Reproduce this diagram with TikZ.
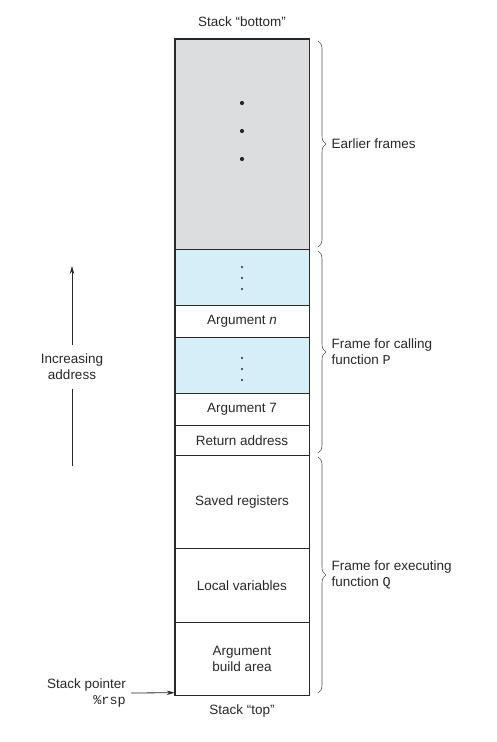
\documentclass[tikz,border=0pt]{standalone}
\usepackage{fontspec}
\setmainfont{Liberation Sans}
\setmonofont{Liberation Mono}
\usetikzlibrary{arrows.meta,decorations.pathreplacing}
\definecolor{frmgray}{RGB}{220,221,223}
\definecolor{argblue}{RGB}{213,238,248}
\definecolor{inkgray}{RGB}{40,40,40}
\newcommand{\lbl}{\fontsize{13.5}{16}\selectfont}

\begin{document}
\begin{tikzpicture}[>={Stealth[length=8pt,width=4.5pt]},x=1pt,y=-1pt,
  cell/.style={draw=inkgray,line width=0.7pt,minimum width=134pt,inner sep=0pt,anchor=north,font=\lbl,text=inkgray,align=center},
  brace/.style={draw=inkgray!80,line width=0.6pt,decorate,decoration={brace,amplitude=8pt}},
  side/.style={font=\lbl,text=inkgray,align=left,anchor=west}]
  \useasboundingbox (0,0) rectangle (497,742);
  \node[cell,fill=frmgray,minimum height=210pt] (early) at (242,39) {};
  \node[cell,fill=argblue,minimum height=56pt] (dotsa) at (242,249) {};
  \node[cell,minimum height=32pt] (argn) at (242,305) {Argument \textit{n}};
  \node[cell,fill=argblue,minimum height=56pt] (dotsb) at (242,337) {};
  \node[cell,minimum height=32pt] (arg7) at (242,393) {Argument 7};
  \node[cell,minimum height=30pt] (ret) at (242,425) {Return address};
  \node[cell,minimum height=93pt] (saved) at (242,455) {Saved registers};
  \node[cell,minimum height=74pt] (local) at (242,548) {Local variables};
  \node[cell,minimum height=73pt] (build) at (242,622) {Argument\\build area};
  \draw[inkgray,line width=1.4pt] (early.north west) rectangle (build.south east);
  \draw[inkgray,line width=1.4pt] (early.south west) -- (early.south east);
  \draw[inkgray,line width=1.4pt] (ret.south west) -- (ret.south east);
  \foreach \y in {103,131,159} \fill[inkgray] (242,\y) circle (2.1pt);
  \foreach \y in {267,278,289,358,369,380} \fill[inkgray] (242,\y) circle (1.2pt);

  \node[font=\lbl,text=inkgray] (bottom) at (242,22) {Stack “bottom”};
  \node[font=\lbl,text=inkgray] (top) at (242,711) {Stack “top”};

  \draw[brace] (318,41) -- (318,247) node[midway,side,xshift=10pt] (efr) {Earlier frames};
  \draw[brace] (318,251) -- (318,453) node[midway,side,xshift=10pt] (cfr) {Frame for calling\\function \texttt{P}};
  \draw[brace] (318,457) -- (318,693) node[midway,side,xshift=10pt] (xfr) {Frame for executing\\function \texttt{Q}};

  \node[font=\lbl,text=inkgray,align=center,inner sep=9pt] (inc) at (72,367) {Increasing\\address};
  \coordinate (inctop) at (72,266);
  \coordinate (incbot) at (72,466);
  \draw[inkgray,line width=0.8pt] (incbot) -- (inc);
  \draw[inkgray,line width=0.8pt,->] (inc) -- (inctop);

  \node[font=\lbl,text=inkgray,align=right,anchor=east,inner sep=0pt] (sp) at (126,693) {Stack pointer\\\texttt{\%rsp}};
  \draw[inkgray,line width=0.8pt,->] ([xshift=5pt]sp.east) -- ([yshift=3pt]build.south west);
\end{tikzpicture}
\end{document}
